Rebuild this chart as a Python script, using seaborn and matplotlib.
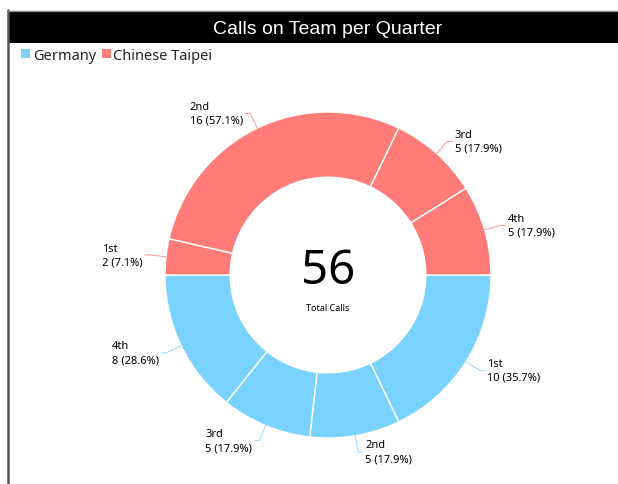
import numpy as np
import matplotlib
matplotlib.use("Agg")
import matplotlib.pyplot as plt
import seaborn as sns
from matplotlib.patches import Patch, Rectangle
from matplotlib.lines import Line2D

# data
teams = ["Germany", "Chinese Taipei"]
quarters = ["1st", "2nd", "3rd", "4th"]
germany_calls = [10, 5, 5, 8]
taipei_calls = [2, 16, 5, 5]
team_colors = ["#7ad3fe", "#ff7c78"]

sns.set_theme(style="white")
plt.rcParams["font.family"] = ["Noto Sans", "DejaVu Sans"]

W, H = 618, 485
fig = plt.figure(figsize=(W / 100, H / 100), dpi=100)
fig.patch.set_facecolor("white")

# frame + black title bar
fig.add_artist(Rectangle((8 / W, 1 - 44 / H), 1, 32 / H, transform=fig.transFigure,
                         facecolor="black", edgecolor="none"))
fig.add_artist(Line2D([7.5 / W, 7.5 / W], [0, 1 - 11 / H], transform=fig.transFigure,
                      color="#555555", lw=1.8))
fig.add_artist(Line2D([7.5 / W, 1], [1 - 11.5 / H, 1 - 11.5 / H], transform=fig.transFigure,
                      color="#888888", lw=1))
fig.text(328 / W, 1 - 29 / H, "Calls on Team per Quarter", color="white",
         fontsize=14, family="Liberation Sans", ha="center", va="center")

# donut axes: 1 data unit = R pixels, centred at (cx, cy)
cx, cy, R = 328, 276, 163
a = 1.8
side = 2 * a * R
ax = fig.add_axes([(cx - side / 2) / W, 1 - (cy + side / 2) / H, side / W, side / H])

values = germany_calls + taipei_calls
colors = [team_colors[0]] * len(germany_calls) + [team_colors[1]] * len(taipei_calls)
labels = []
for team_vals in (germany_calls, taipei_calls):
    tot = sum(team_vals)
    for q, v in zip(quarters, team_vals):
        labels.append(f"{q}\n{v} ({v / tot * 100:.1f}%)")

wedges, _ = ax.pie(values, colors=colors, startangle=0, counterclock=False, radius=1,
                   wedgeprops=dict(width=0.4, edgecolor="white", linewidth=1))
ax.set_xlim(-a, a)
ax.set_ylim(-a, a)
ax.set_aspect("equal")
ax.axis("off")

for w, lab, col in zip(wedges, labels, colors):
    ang = np.deg2rad((w.theta1 + w.theta2) / 2)
    x0, y0 = np.cos(ang), np.sin(ang)
    x1, y1 = 1.1 * x0, 1.1 * y0
    side_sign = 1 if x0 >= 0 else -1
    x2 = x1 + side_sign * 0.03
    ax.plot([x0, x1, x2], [y0, y1, y1], color=col, lw=0.7, alpha=0.8, clip_on=False)
    ax.text(x2 + side_sign * 0.015, y1, lab, ha="left" if side_sign > 0 else "right",
            multialignment="left", va="center", fontsize=8, color="black",
            linespacing=1.35, clip_on=False)

total = sum(values)
ax.text(0, 0.025, str(total), ha="center", va="center", fontsize=34, color="black")
ax.text(0, -0.2, "Total Calls", ha="center", va="center", fontsize=6.5, color="black")

handles = [Patch(facecolor=c, edgecolor="none", label=t) for t, c in zip(teams, team_colors)]
fig.legend(handles=handles, loc="upper left", bbox_to_anchor=(21 / W, 1 - 49 / H), ncol=2,
           frameon=False, fontsize=10.5, handlelength=0.6, handleheight=0.6,
           handletextpad=0.2, columnspacing=0.4, borderaxespad=0, borderpad=0)

fig.savefig("out.png", dpi=100)
